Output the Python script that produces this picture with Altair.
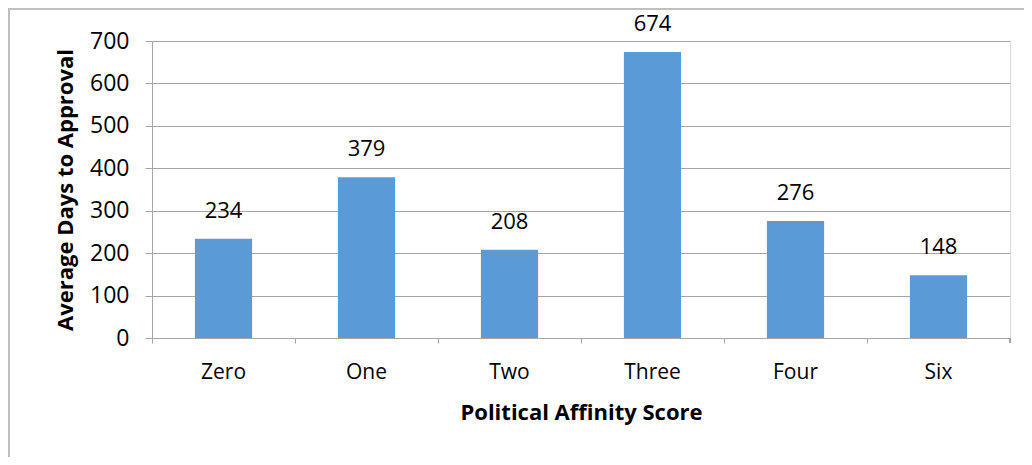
import altair as alt
import pandas as pd

categories = ["Zero", "One", "Two", "Three", "Four", "Six"]
values = [234, 379, 208, 674, 276, 148]

df = pd.DataFrame({"score": categories, "days": values})

FONT = "Open Sans"

x = alt.X(
    "score:N",
    sort=categories,
    title="Political Affinity Score",
    scale=alt.Scale(paddingInner=0, paddingOuter=0),
    axis=alt.Axis(
        bandPosition=0,
        labelAngle=0,
        labelFont=FONT,
        labelFontSize=21,
        labelColor="#000000",
        labelPadding=18,
        tickSize=5,
        tickColor="#A6A6A6",
        domainColor="#A6A6A6",
        titleFont=FONT,
        titleFontSize=22,
        titleFontWeight="bold",
        titleColor="#000000",
        titlePadding=20,
        grid=False,
    ),
)

y = alt.Y(
    "days:Q",
    title="Average Days to Approval",
    scale=alt.Scale(domain=[0, 700], nice=False),
    axis=alt.Axis(
        values=[0, 100, 200, 300, 400, 500, 600, 700],
        labelFont=FONT,
        labelFontSize=23,
        labelColor="#000000",
        labelPadding=16,
        tickSize=7,
        tickColor="#A6A6A6",
        domainColor="#A6A6A6",
        gridColor="#A6A6A6",
        titleFont=FONT,
        titleFontSize=22,
        titleFontWeight="bold",
        titleColor="#000000",
        titlePadding=12,
    ),
)

bars = alt.Chart(df).mark_bar(color="#5B9BD5", width=alt.RelativeBandSize(0.4)).encode(x=x, y=y)

labels = alt.Chart(df).mark_text(
    font=FONT, fontSize=22, color="#000000", baseline="alphabetic", dy=-21
).encode(x=alt.X("score:N", sort=categories), y="days:Q", text="days:Q")

end_tick = alt.Chart(df).mark_rule(color="#A6A6A6").encode(
    x=alt.value(858), y=alt.value(297), y2=alt.value(302)
)

frame = alt.Chart(df).mark_rect(fill=None, stroke="#BFBFBF", strokeWidth=1.5).encode(
    x=alt.value(-143.2), x2=alt.value(900), y=alt.value(-32.2), y2=alt.value(460)
)

chart = (
    alt.layer(frame, bars, labels, end_tick)
    .properties(
        width=858,
        height=297,
        autosize=alt.AutoSizeParams(type="none"),
        padding={"left": 144, "top": 33, "right": 14, "bottom": 119},
    )
    .configure_view(stroke=None)
    .configure(background="white")
)

chart.save("out.html", embed_options={"renderer": "svg", "actions": False})
